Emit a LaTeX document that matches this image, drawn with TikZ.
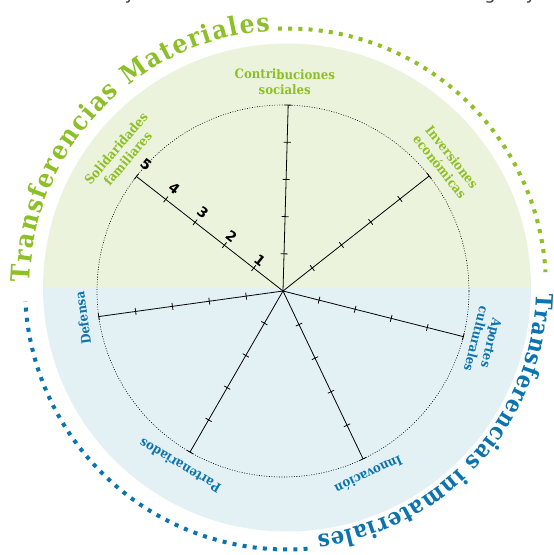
\documentclass[tikz,border=0pt]{standalone}
\usepackage{fontspec}
\setmainfont{DejaVu Serif}[FakeStretch=0.9]
\newfontfamily\numfont{DejaVu Sans}
\usetikzlibrary{decorations.text}
\definecolor{verde}{HTML}{8DBF26}
\definecolor{azul}{HTML}{0B74AE}
\definecolor{fverde}{HTML}{ECF3DC}
\definecolor{fazul}{HTML}{E3F1F5}
\definecolor{gris}{HTML}{404040}
\newcommand\tmat{\color{verde}\bfseries\fontsize{26}{26}\selectfont}
\newcommand\timm{\color{azul}\bfseries\fontsize{23.5}{23.5}\selectfont}
\tikzset{eje/.style={line width=0.8pt},
  lab/.style={font=\bfseries\fontsize{13}{15.5}\selectfont, align=center, inner sep=1pt},
  num/.style={font=\numfont\bfseries\fontsize{14}{14}\selectfont, inner sep=0pt},
  puntos/.style={line width=4pt, dash pattern=on 4pt off 6.2pt}}
\begin{document}
\begin{tikzpicture}[x=1pt,y=1pt]
 	\useasboundingbox (-283,-264) rectangle (271,291);
 	\coordinate (O) at (0,0);
 	\coordinate (C) at (4,3.5);
 	\begin{scope}
 		\clip (C) circle[radius=244pt];
 		\fill[fverde] (-283,3) rectangle (271,291);
 		\fill[fazul] (-283,3) rectangle (271,-264);
 	\end{scope}
 	\draw[line width=0.6pt, dash pattern=on 0.9pt off 1.6pt] (O) circle[radius=186pt];
 	\foreach \a/\n in {88.4/soc,38.2/inv,-14.2/apo,
 		-64.5/inn,-120/par,187.9/def,142/sol}{
 		\coordinate (\n) at (\a:186);
 		\draw[eje] (O)--(\n);
 		\begin{scope}[rotate=\a]
 			\foreach \k in {1,...,5} \draw[eje] (\k*37.2,-3.5)--(\k*37.2,3.5);
 		\end{scope}}
 	\begin{scope}[rotate=142]
 		\foreach \k in {1,...,5} \node[num,rotate=-38] (n\k) at (\k*37.2,-8.5-1.4*\k) {\k};
 	\end{scope}
 	\foreach \a/\r/\c/\n/\texn in {89.5/209/verde/lsoc/Contribuciones\\sociales,
 		38.4/208/verde/linv/Inversiones\\económicas,
 		139.5/212/verde/lsol/Solidaridades\\familiares,
 		-14/207/azul/lapo/Aportes\\culturales,
 		-65/203/azul/linn/Innovación,
 		-120.5/203/azul/lpar/Partenariados,
 		187.7/202/azul/ldef/Defensa}
 	\node[lab,text=\c,rotate=\a-90] (\n) at (\a:\r) {\texn};
 	\path[shift={(4,3.5)},decorate,decoration={text along path,text align=fit to path,
 		text={|\tmat|Transferencias Materiales}}]
 	(178.8:257) arc[start angle=178.8,end angle=93.8,radius=257pt];
 	\draw[verde,puntos,shift={(4,3.5)}] (92:259) arc[start angle=92,end angle=3.4,radius=259pt];
 	\path[shift={(4,3.5)},decorate,decoration={text along path,text align=fit to path,
 		text={|\timm|Transferencias inmateriales}}]
 	(-1.3:249) arc[start angle=-1.3,end angle=-83,radius=249pt];
 	\draw[azul,puntos,shift={(4,3.5)}] (-85.5:262) arc[start angle=-85.5,end angle=-177,radius=262pt];
 	\foreach \x/\texn/\n in {-153/y/fa,207/g/fb,248/y/fc}
 	\node[anchor=base,text=gris,font=\numfont\fontsize{18}{18}\selectfont] (\n) at (\x,291.5) {\texn};
\end{tikzpicture}
\end{document}
